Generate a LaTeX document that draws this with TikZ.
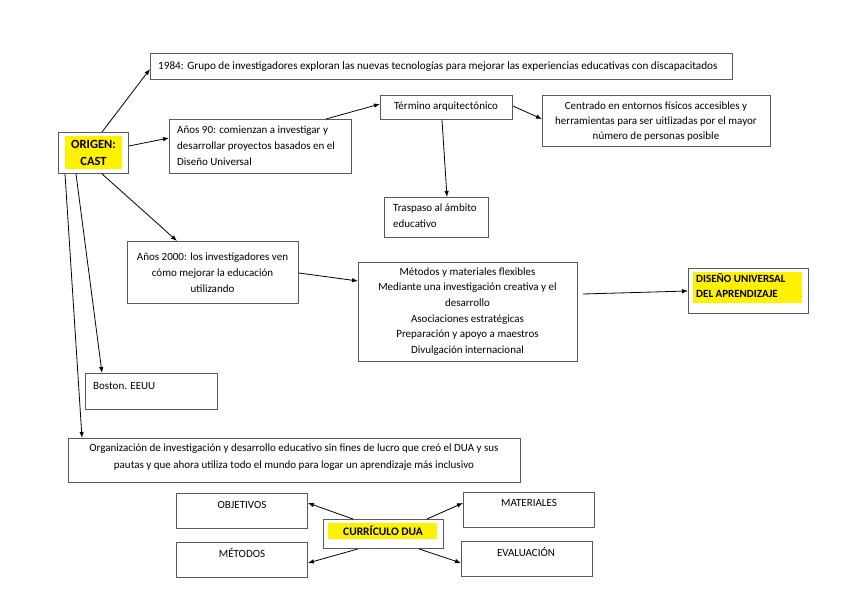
\documentclass[tikz,border=0pt]{standalone}
\usepackage{fontspec}
\setmainfont{Carlito}
\usetikzlibrary{arrows.meta}
\begin{document}
\begin{tikzpicture}[x=1pt,y=-1pt,
  box/.style={draw=black!65,line width=0.9pt,fill=white,inner sep=0pt,anchor=north west},
  txt/.style={inner sep=0pt,font=\fontsize{11}{16}\selectfont},
  hl/.style={fill=yellow,draw=none,anchor=north west,inner sep=0pt},
  arr/.style={draw=black,line width=0.8pt,-{Latex[length=6pt,width=4.5pt]}}]
\useasboundingbox (0,0) rectangle (848,599);
% boxes
\node[box,minimum width=70pt,minimum height=41pt] (orig) at (58,132) {};
\node[box,minimum width=582pt,minimum height=26pt] (y84) at (150,53) {};
\node[box,minimum width=182pt,minimum height=54pt] (a90) at (169,119) {};
\node[box,minimum width=132pt,minimum height=24pt] (term) at (380,95) {};
\node[box,minimum width=228pt,minimum height=51pt] (centr) at (542,95) {};
\node[box,minimum width=104pt,minimum height=40pt] (trasp) at (384,197) {};
\node[box,minimum width=171pt,minimum height=62pt] (a2k) at (127,241) {};
\node[box,minimum width=219pt,minimum height=99pt] (metod) at (358,262) {};
\node[box,minimum width=120pt,minimum height=45pt] (dua) at (688,268) {};
\node[box,minimum width=132pt,minimum height=36pt] (bost) at (85,373) {};
\node[box,minimum width=452pt,minimum height=44pt] (org) at (68,438) {};
\node[box,minimum width=131pt,minimum height=35pt] (obj) at (176,493) {};
\node[box,minimum width=131pt,minimum height=35pt] (met) at (176,542) {};
\node[box,minimum width=131pt,minimum height=35pt] (mat) at (463,492) {};
\node[box,minimum width=131pt,minimum height=35pt] (eval) at (461,541) {};
\node[box,minimum width=120pt,minimum height=29pt] (curr) at (323,519) {};
% highlights
\node[hl,minimum width=57pt,minimum height=33pt] (origh) at (65,136) {};
\node[hl,minimum width=109pt,minimum height=31pt] (duah) at (693,272) {};
\node[hl,minimum width=109pt,minimum height=16pt] (currh) at (328,523) {};
% texts
\node[txt,font=\fontsize{12.5}{17}\selectfont\bfseries,align=center] (torig) at (93.5,152.5) {ORIGEN:\\CAST};
\node[txt,anchor=base west,font=\fontsize{11.2}{16}\selectfont] (t84) at (158,70) {1984: Grupo de investigadores exploran las nuevas tecnologías para mejorar las experiencias educativas con discapacitados};
\node[txt,anchor=north west,align=left] (t90) at (177,125.5) {Años 90: comienzan a investigar y\\desarrollar proyectos basados en el\\Diseño Universal};
\node[txt] (tterm) at (446,107) {Término arquitectónico};
\node[txt,align=center,font=\fontsize{11}{15}\selectfont] (tcentr) at (656,122) {Centrado en entornos físicos accesibles y\\herramientas para ser uitlizadas por el mayor\\número de personas posible};
\node[txt,anchor=north west,align=left] (ttrasp) at (393,203.5) {Traspaso al ámbito\\educativo};
\node[txt,align=center] (ta2k) at (212.5,273) {Años 2000: los investigadores ven\\cómo mejorar la educación\\utilizando};
\node[txt,align=center,font=\fontsize{11}{15.7}\selectfont] (tmetod) at (467.5,311.5) {Métodos y materiales flexibles\\Mediante una investigación creativa y el\\desarrollo\\Asociaciones estratégicas\\Preparación y apoyo a maestros\\Divulgación internacional};
\node[txt,font=\fontsize{11}{15}\selectfont\bfseries,anchor=north west,align=left] (tdua) at (696,273) {DISEÑO UNIVERSAL\\DEL APRENDIZAJE};
\node[txt,anchor=base west] (tbost) at (93,389) {Boston. EEUU};
\node[txt,align=center,font=\fontsize{11}{17}\selectfont] (torg) at (294,457) {Organización de investigación y desarrollo educativo sin fines de lucro que creó el DUA y sus\\pautas y que ahora utiliza todo el mundo para logar un aprendizaje más inclusivo};
\node[txt] (tobj) at (242,505) {OBJETIVOS};
\node[txt] (tmet) at (242,553) {MÉTODOS};
\node[txt] (tmat) at (529,503) {MATERIALES};
\node[txt] (teval) at (526,552) {EVALUACIÓN};
\node[txt,font=\fontsize{11.5}{13}\selectfont\bfseries] (tcurr) at (383,531) {CURRÍCULO DUA};
% arrows
\draw[arr] ([xshift=44pt]orig.north west) -- ([yshift=-16pt]y84.north west);
\draw[arr] ([yshift=-14pt]orig.north east) -- ([yshift=-19pt]a90.north west);
\draw[arr] ([xshift=157pt]a90.north west) -- ([yshift=-9pt]term.north west);
\draw[arr] ([yshift=-11pt]term.north east) -- ([yshift=-24pt]centr.north west);
\draw[arr] ([xshift=62pt]term.south west) -- ([xshift=63pt]trasp.north west);
\draw[arr] ([xshift=44pt]orig.south west) -- ([xshift=50pt]a2k.north west);
\draw[arr] ([xshift=18pt]orig.south west) -- ([xshift=17pt]bost.north west);
\draw[arr] ([xshift=7pt]orig.south west) -- ([xshift=14pt]org.north west);
\draw[arr] ([yshift=-32pt]a2k.north east) -- ([yshift=-19pt]metod.north west);
\draw[arr] ([xshift=5pt,yshift=-32pt]metod.north east) -- ([yshift=-23pt]dua.north west);
\draw[arr] ([xshift=30pt]curr.north west) -- ([yshift=-10pt]obj.north east);
\draw[arr] ([xshift=104pt]curr.north west) -- ([yshift=-11pt]mat.north west);
\draw[arr] ([xshift=35pt]curr.south west) -- ([yshift=-21pt]met.north east);
\draw[arr] ([xshift=96pt]curr.south west) -- ([yshift=-22pt]eval.north west);
\end{tikzpicture}
\end{document}
